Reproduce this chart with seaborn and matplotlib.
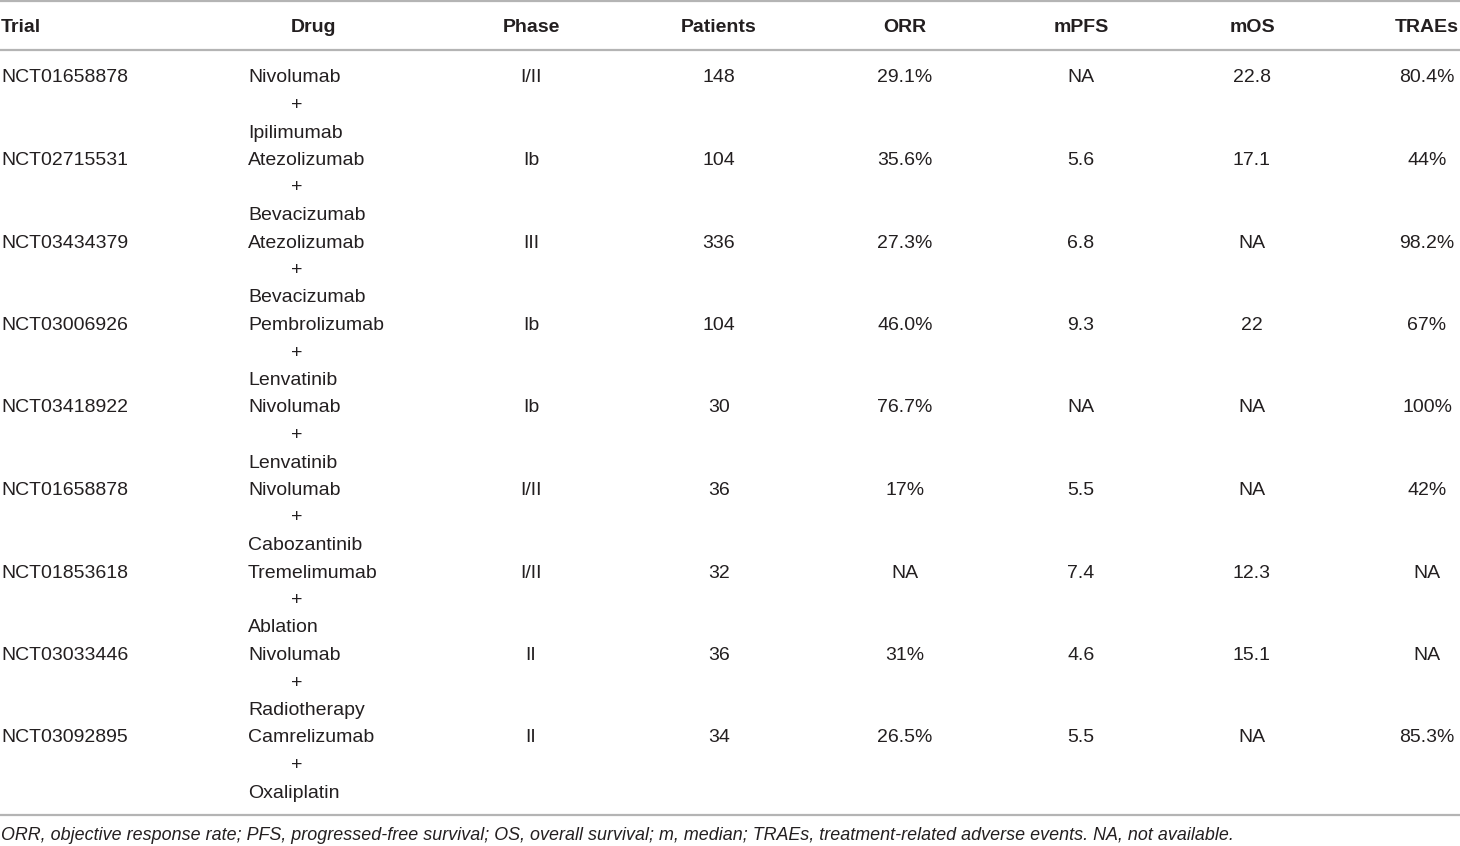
import matplotlib
matplotlib.use('Agg')
import matplotlib.pyplot as plt
import seaborn as sns

# table content
headers = ['Trial', 'Drug', 'Phase', 'Patients', 'ORR', 'mPFS', 'mOS', 'TRAEs']
trials = ['NCT01658878', 'NCT02715531', 'NCT03434379', 'NCT03006926', 'NCT03418922',
          'NCT01658878', 'NCT01853618', 'NCT03033446', 'NCT03092895']
drug_a = ['Nivolumab', 'Atezolizumab', 'Atezolizumab', 'Pembrolizumab', 'Nivolumab',
          'Nivolumab', 'Tremelimumab', 'Nivolumab', 'Camrelizumab']
drug_b = ['Ipilimumab', 'Bevacizumab', 'Bevacizumab', 'Lenvatinib', 'Lenvatinib',
          'Cabozantinib', 'Ablation', 'Radiotherapy', 'Oxaliplatin']
phase = ['I/II', 'Ib', 'III', 'Ib', 'Ib', 'I/II', 'I/II', 'II', 'II']
patients = ['148', '104', '336', '104', '30', '36', '32', '36', '34']
orr = ['29.1%', '35.6%', '27.3%', '46.0%', '76.7%', '17%', 'NA', '31%', '26.5%']
mpfs = ['NA', '5.6', '6.8', '9.3', 'NA', '5.5', '7.4', '4.6', '5.5']
mos = ['22.8', '17.1', 'NA', '22', 'NA', 'NA', '12.3', '15.1', 'NA']
traes = ['80.4%', '44%', '98.2%', '67%', '100%', '42%', 'NA', 'NA', '85.3%']
footnote = ('ORR, objective response rate; PFS, progressed-free survival; OS, overall survival; '
            'm, median; TRAEs, treatment-related adverse events. NA, not available.')

sns.set_theme(style='white')
plt.rcParams['font.family'] = ['Liberation Sans', 'DejaVu Sans']

W, H = 1460, 846
fig = plt.figure(figsize=(W / 100, H / 100), dpi=100)
ax = fig.add_axes([0, 0, 1, 1])
ax.set_xlim(0, W)
ax.set_ylim(H, 0)
ax.axis('off')

txt = '#231f20'
line_col = '#b4b4b4'
fs = 14

# column positions (x, alignment)
col_x = {'Trial': (1, 'left'), 'Drug': (314, 'center'), 'Phase': (531, 'center'),
         'Patients': (719, 'center'), 'ORR': (905, 'center'), 'mPFS': (1081, 'center'),
         'mOS': (1252, 'center'), 'TRAEs': (1427, 'center')}

for h in headers:
    x, ha = col_x[h]
    ax.text(x, 28, h, ha=ha, va='center', fontsize=fs, fontweight='bold', color=txt)

for y_line in (1.5, 50, 815):
    ax.axhline(y_line, color=line_col, lw=1.6)

row0, pitch, sub = 78, 82.5, 27.5
columns = [phase, patients, orr, mpfs, mos, traes]
for i in range(len(trials)):
    y = row0 + i * pitch
    ax.text(1, y, trials[i], ha='left', va='center', fontsize=fs, color=txt)
    ax.text(248, y, drug_a[i], ha='left', va='center', fontsize=fs, color=txt)
    ax.text(297, y + sub, '+', ha='center', va='center', fontsize=fs, color=txt)
    ax.text(248, y + 2 * sub, drug_b[i], ha='left', va='center', fontsize=fs, color=txt)
    for name, vals in zip(headers[2:], columns):
        x, ha = col_x[name]
        ax.text(x, y, vals[i], ha=ha, va='center', fontsize=fs, color=txt)

ax.text(1, 836, footnote, ha='left', va='center', fontsize=12.9, style='italic', color=txt)

fig.savefig('out.png', dpi=100)
